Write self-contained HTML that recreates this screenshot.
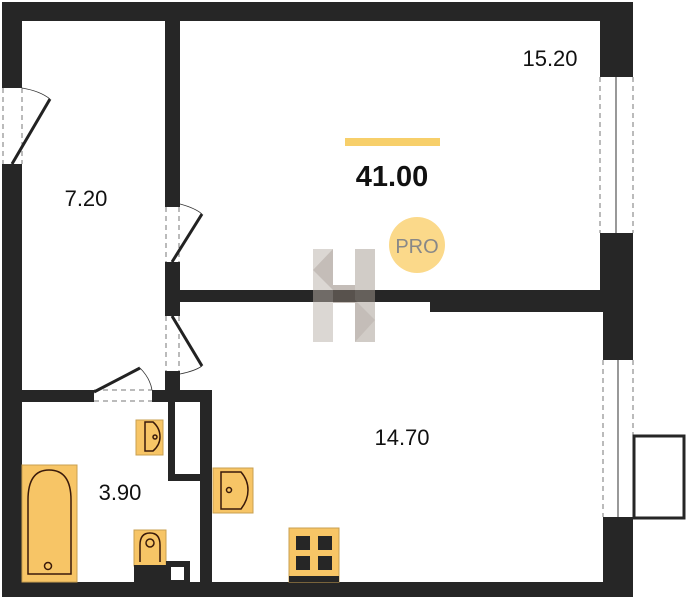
<!DOCTYPE html>
<html><head><style>body{margin:0;background:#fff}svg{display:block}text{font-family:"Liberation Sans",sans-serif;fill:#111}</style></head>
<body>
<svg width="687" height="600" viewBox="0 0 687 600" xmlns="http://www.w3.org/2000/svg">
<g fill="#262626">
<!-- outer top -->
<rect x="2" y="2" width="631" height="19"/>
<!-- left wall -->
<rect x="2" y="2" width="20" height="81"/>
<rect x="2" y="167" width="20" height="430"/>
<!-- right wall -->
<rect x="600" y="2" width="33" height="72"/>
<rect x="600" y="236" width="33" height="76"/>
<rect x="603" y="290" width="30" height="68"/>
<rect x="603" y="520" width="30" height="77"/>
<!-- bottom -->
<rect x="2" y="582" width="631" height="15"/>
<!-- divider -->
<rect x="165" y="2" width="15" height="200"/>
<rect x="165" y="266" width="15" height="47"/>
<rect x="165" y="374" width="15" height="16"/>
<!-- horizontal partition -->
<rect x="165" y="290" width="438" height="12"/>
<rect x="430" y="290" width="173" height="22"/>
<!-- bathroom top wall -->
<rect x="2" y="390" width="90" height="12"/>
<rect x="153" y="390" width="59" height="12"/>
<!-- shaft -->
<rect x="168" y="390" width="7" height="90"/>
<rect x="168" y="474" width="44" height="7"/>
<rect x="200" y="390" width="12" height="200"/>
</g>
<!-- door frames -->
<g fill="#262626">
<rect x="2" y="83" width="20" height="5"/><rect x="2" y="164" width="20" height="5"/>
<rect x="165" y="202" width="15" height="5"/><rect x="165" y="262" width="15" height="5"/>
<rect x="165" y="311" width="15" height="5"/><rect x="165" y="371" width="15" height="5"/>
<rect x="89" y="390" width="5" height="12"/><rect x="152" y="390" width="5" height="12"/>
<rect x="600" y="73" width="33" height="4"/><rect x="600" y="233" width="33" height="4"/>
<rect x="603" y="356" width="30" height="4"/><rect x="603" y="517" width="30" height="4"/>
</g>
<g stroke="#777" stroke-width="1" stroke-dasharray="5,4" fill="none">
<line x1="3" y1="88" x2="3" y2="164"/><line x1="22" y1="88" x2="22" y2="164"/>
<line x1="166" y1="207" x2="166" y2="262"/><line x1="179" y1="207" x2="179" y2="262"/>
<line x1="166" y1="316" x2="166" y2="371"/><line x1="179" y1="316" x2="179" y2="371"/>
<line x1="94" y1="390" x2="152" y2="390"/><line x1="94" y1="401" x2="152" y2="401"/>
<line x1="600" y1="77" x2="600" y2="233"/><line x1="633" y1="77" x2="633" y2="233"/>
<line x1="603" y1="360" x2="603" y2="517"/><line x1="633" y1="360" x2="633" y2="517"/>
</g>
<g stroke="#555" stroke-width="1.2">
<line x1="616" y1="77" x2="616" y2="233"/><line x1="618" y1="360" x2="618" y2="517"/>
</g>
<!-- door leaves -->
<g stroke="#222" stroke-width="3" fill="none">
<line x1="12" y1="164" x2="50" y2="99"/>
<line x1="172" y1="262" x2="202" y2="214"/>
<line x1="172" y1="316" x2="202" y2="366"/>
<line x1="94" y1="392" x2="140" y2="368"/>
</g>
<g stroke="#333" stroke-width="0.8" fill="none">
<path d="M22 88 Q40 91 50 99"/>
<path d="M180 204 Q195 208 202 214"/>
<path d="M180 374 Q195 371 202 366"/>
<path d="M140 368 Q150 378 152 390"/>
</g>
<!-- balcony -->
<rect x="634" y="436" width="50" height="82" fill="none" stroke="#262626" stroke-width="3"/>
<!-- fixtures -->
<g fill="#f7c566" stroke="#c9a050" stroke-width="1">
<rect x="22" y="465" width="55" height="117"/>
<rect x="136" y="420" width="27" height="35"/>
<rect x="213" y="468" width="40" height="45"/>
<rect x="134" y="530" width="32" height="36"/>
<rect x="289" y="528" width="50" height="54"/>
</g>
<g fill="none" stroke="#3a1a0a" stroke-width="1.5">
<path d="M28 574 V500 Q28 470 49 470 Q71 470 71 500 V574 Z"/>
<circle cx="48" cy="566" r="3.5"/>
<path d="M145 422 V451 H153 Q160 445 160 437 Q160 428 153 422 Z"/>
<circle cx="155" cy="437" r="2"/>
<path d="M221 472 V509 H241 Q248 500 248 490 Q248 480 241 472 Z"/>
<circle cx="229" cy="490" r="2.5"/>
<path d="M140 562 V545 Q140 533 150 533 Q160 533 160 545 V562"/>
<circle cx="150" cy="543" r="4"/>
</g>
<rect x="134" y="565" width="32" height="17" fill="#262626"/>
<rect x="166" y="561" width="24" height="21" fill="#262626"/>
<rect x="171" y="567" width="13" height="13" fill="#fff"/>
<g fill="#262626">
<rect x="296" y="536" width="14" height="14"/><rect x="318" y="536" width="14" height="14"/>
<rect x="296" y="556" width="14" height="14"/><rect x="318" y="556" width="14" height="14"/>
<rect x="289" y="576" width="50" height="6"/>
</g>
<!-- H logo -->
<g opacity="0.5">
<rect x="313" y="249" width="20" height="93" fill="#b9b0a8"/>
<rect x="355" y="249" width="20" height="93" fill="#a59a90"/>
<rect x="333" y="285" width="22" height="18" fill="#8a7e74"/>
<polygon points="313,270 333,249 333,290" fill="#8a7e74"/>
<polygon points="375,320 355,342 355,300" fill="#8a7e74"/>
</g>
<!-- labels -->
<rect x="345" y="138" width="95" height="8" fill="#f7cf6a"/>
<text x="392" y="186" font-size="29" font-weight="bold" text-anchor="middle">41.00</text>
<circle cx="417" cy="245" r="28" fill="#fbd98a"/>
<text x="417" y="253" font-size="20" text-anchor="middle" style="fill:#888">PRO</text>
<text x="86" y="206" font-size="22" text-anchor="middle">7.20</text>
<text x="550" y="66" font-size="22" text-anchor="middle">15.20</text>
<text x="402" y="445" font-size="22" text-anchor="middle">14.70</text>
<text x="120" y="500" font-size="22" text-anchor="middle">3.90</text>
</svg>
</body></html>
